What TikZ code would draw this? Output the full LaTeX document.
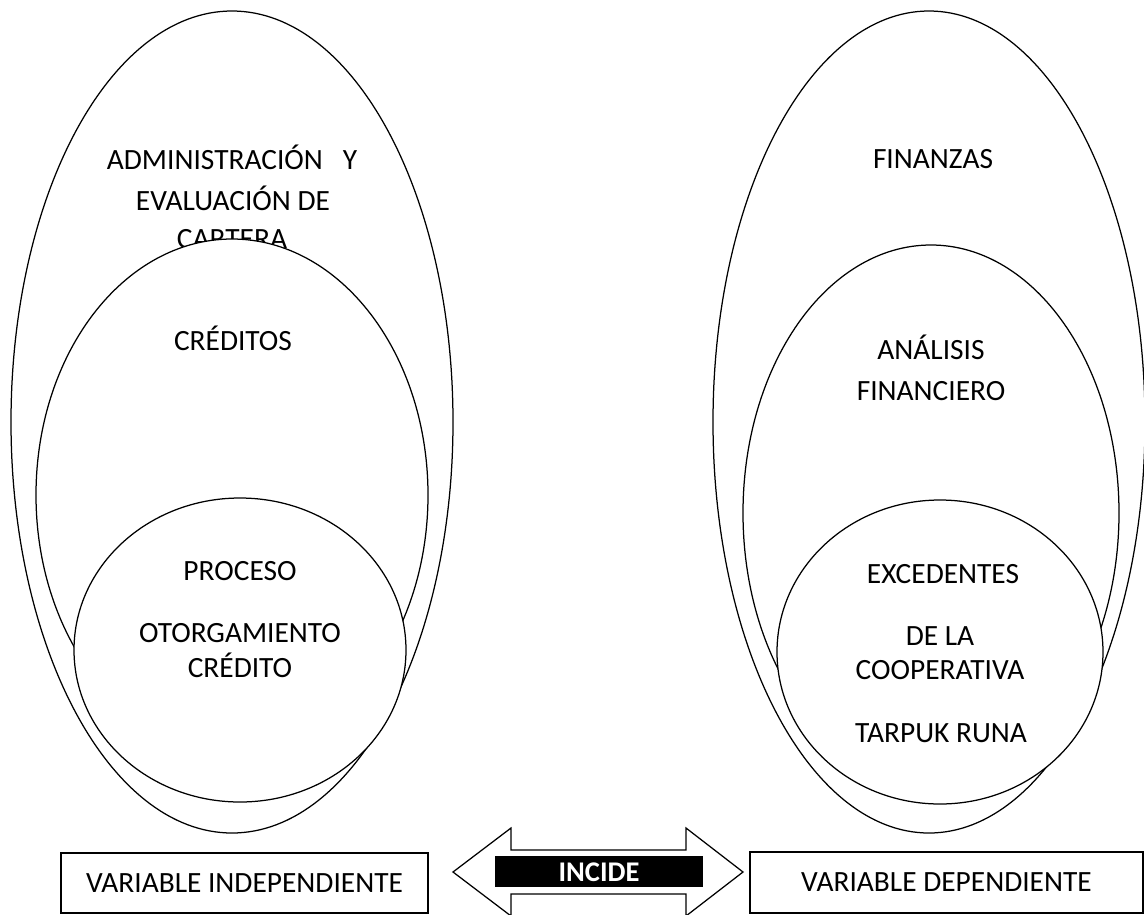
\documentclass[tikz,border=0pt]{standalone}
\usepackage{fontspec}
\setmainfont{Carlito}
\usetikzlibrary{shapes.geometric}
\tikzset{
  ell/.style={ellipse, draw=black, fill=white, line width=1.25pt, inner sep=0pt},
  lbl/.style={anchor=base, inner sep=0pt, font=\fontsize{29.4}{35}\selectfont},
  varbox/.style={draw=black, line width=1.25pt, fill=white, inner sep=0pt},
  arrowshape/.style={draw=black, line width=1.25pt, fill=white, line join=miter},
}
\begin{document}
\begin{tikzpicture}[x=1pt,y=-1pt]
\useasboundingbox (0,0) rectangle (1144,914);
% ---------- left set ----------
\node[ell, minimum width=442pt, minimum height=822pt] (Lout) at (232,422) {};
\node[lbl] (t1) at (232,169.5) {ADMINISTRACIÓN\ \ \ Y};
\node[lbl] (t2) at (233,210.5) {EVALUACIÓN DE};
\node[lbl] (t3) at (232,248.5) {CARTERA};
\node[ell, minimum width=392pt, minimum height=512pt] (Lmid) at (232,495) {};
\node[lbl] (t4) at (233,350.5) {CRÉDITOS};
\node[ell, minimum width=332pt, minimum height=304pt] (Lin) at (240,650) {};
\node[lbl] (t5) at (240,580.5) {PROCESO};
\node[lbl] (t6) at (240,642) {OTORGAMIENTO};
\node[lbl] (t7) at (240,677) {CRÉDITO};
% ---------- right set ----------
\node[ell, minimum width=432pt, minimum height=822pt] (Rout) at (929,422) {};
\node[lbl] (r1) at (933,168.5) {FINANZAS};
\node[ell, minimum width=376pt, minimum height=536pt] (Rmid) at (931,513) {};
\node[lbl] (r2) at (931,359.5) {ANÁLISIS};
\node[lbl] (r3) at (931,400.5) {FINANCIERO};
\node[ell, minimum width=326pt, minimum height=304pt] (Rin) at (940,652) {};
\node[lbl] (r4) at (943,583.5) {EXCEDENTES};
\node[lbl] (r5) at (940,645.5) {DE LA};
\node[lbl] (r6) at (940,679.5) {COOPERATIVA};
\node[lbl] (r7) at (941,742.5) {TARPUK RUNA};
% ---------- bottom ----------
\node[varbox, minimum width=367pt, minimum height=60pt] (vi) at (244.5,883) {};
\node[lbl] (vit) at (244.5,892.5) {VARIABLE INDEPENDIENTE};
\node[varbox, minimum width=393pt, minimum height=61pt] (vd) at (946.5,882.5) {};
\node[lbl] (vdt) at (946.5,891.5) {VARIABLE DEPENDIENTE};
% double arrow
\coordinate (tipL) at (453,872);
\coordinate (tipR) at (743,872);
\draw[arrowshape] (tipL) -- (511,828) -- (511,850) -- (686,850) -- (686,828) -- (tipR)
  -- (686,916) -- (686,894) -- (511,894) -- (511,916) -- cycle;
\node[fill=black, minimum width=208pt, minimum height=31pt, inner sep=0pt] (inc) at (599,871.5) {};
\node[lbl, text=white, font=\fontsize{28.5}{34}\selectfont\bfseries] (inct) at (599,881) {INCIDE};
\end{tikzpicture}
\end{document}
